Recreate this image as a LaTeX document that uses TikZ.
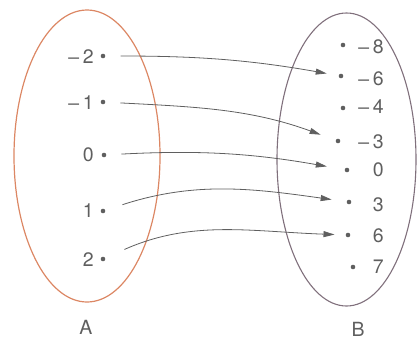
\documentclass[tikz,border=0pt]{standalone}
\usepackage{fontspec}
\setmainfont{TeX Gyre Heros}
\usetikzlibrary{arrows.meta}
\definecolor{setA}{RGB}{220,135,100}
\definecolor{setB}{RGB}{128,112,124}
\definecolor{ink}{RGB}{95,95,95}
\begin{document}
\begin{tikzpicture}[x=1pt,y=1pt,
  lab/.style={font=\fontsize{19.5}{19.5}\selectfont, text=ink, inner sep=0pt},
  pt/.style={circle, fill=ink, inner sep=0pt, minimum size=4.6pt},
  map/.style={draw=ink, line width=0.8pt, -{Triangle[length=11pt,width=6pt]}}]
\useasboundingbox (0,0) rectangle (417,-340);
\draw[setA, line width=1.2pt] (87,-156) ellipse [x radius=73, y radius=146];
\draw[setB, line width=1.1pt] (346.5,-159.5) ellipse [x radius=69.5, y radius=146.5];
% set A
\node[pt] (a1) at (103,-56) {};
\node[pt] (a2) at (103,-102) {};
\node[pt] (a3) at (104,-155) {};
\node[pt] (a4) at (103,-211) {};
\node[pt] (a5) at (103,-259) {};
\node[lab, anchor=east] (la1) at (94,-57) {\scalebox{1.25}[1]{−}\kern2pt2};
\node[lab, anchor=east] (la2) at (94,-103) {\scalebox{1.25}[1]{−}\kern2pt1};
\node[lab, anchor=east] (la3) at (94,-155) {0};
\node[lab, anchor=east] (la4) at (94,-211) {1};
\node[lab, anchor=east] (la5) at (94,-260) {2};
% set B
\node[pt] (b1) at (343,-45) {};
\node[pt] (b2) at (341,-76) {};
\node[pt] (b3) at (343,-108) {};
\node[pt] (b4) at (338,-141) {};
\node[pt] (b5) at (347,-170) {};
\node[pt] (b6) at (349,-202) {};
\node[pt] (b7) at (348,-235) {};
\node[pt] (b8) at (353,-267) {};
\node[lab, anchor=east] (lb1) at (384,-47) {\scalebox{1.25}[1]{−}\kern2pt8};
\node[lab, anchor=east] (lb2) at (384,-79) {\scalebox{1.25}[1]{−}\kern2pt6};
\node[lab, anchor=east] (lb3) at (384,-107) {\scalebox{1.25}[1]{−}\kern2pt4};
\node[lab, anchor=east] (lb4) at (384,-142) {\scalebox{1.25}[1]{−}\kern2pt3};
\node[lab, anchor=east] (lb5) at (384,-170) {0};
\node[lab, anchor=east] (lb6) at (384,-205) {3};
\node[lab, anchor=east] (lb7) at (384,-236) {6};
\node[lab, anchor=east] (lb8) at (384,-267) {7};
% set names
\node[lab] (nA) at (86,-327) {A};
\node[lab] (nB) at (358,-329) {B};
% mapping
\draw[map, shorten <=15pt, shorten >=12pt] (a1) to[out=0, in=170] (b2);
\draw[map, shorten <=15pt, shorten >=16pt] (a2) to[out=-3, in=160] (b4);
\draw[map, shorten <=15pt, shorten >=18pt] (a3) to[out=3, in=170] (b5);
\draw[map, shorten <=18pt, shorten >=15pt] (a4) to[out=18, in=172] (b6);
\draw[map, shorten <=21pt, shorten >=11pt] (a5) to[out=24, in=178] (b7);
\end{tikzpicture}
\end{document}
